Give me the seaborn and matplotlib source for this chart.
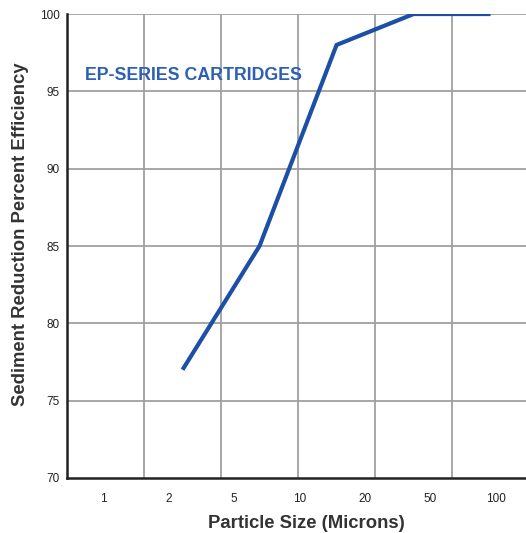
import numpy as np
import pandas as pd
import seaborn as sns
import matplotlib
matplotlib.use("Agg")
import matplotlib.pyplot as plt

sns.set_style("white")
plt.rcParams['font.family'] = ['Liberation Sans', 'DejaVu Sans']

# data
grid_column = [1, 2, 3, 4, 5]          # grid column holding each point
efficiency = [77, 85, 98, 100, 100]    # sediment reduction, percent
size_labels = ['1', '2', '5', '10', '20', '50', '100']
y_ticks = [70, 75, 80, 85, 90, 95, 100]

df = pd.DataFrame({'col': np.array(grid_column) + 0.5, 'eff': efficiency})

fig = plt.figure(figsize=(5.26, 5.33), dpi=100)
ax = fig.add_axes([0.1274, 0.1032, 0.8726, 0.8705])

sns.lineplot(x='col', y='eff', data=df, ax=ax, color='#1d4fa6',
             linewidth=3.0, solid_capstyle='butt', solid_joinstyle='miter')

ax.set_xlim(0, 5.96)
ax.set_ylim(70, 100)

# grid lines (columns do not line up with the size labels in the original)
for gx in range(1, 7):
    ax.axvline(gx, color='#a0a0a0', lw=1.3, zorder=0)
for gy in y_ticks[1:]:
    ax.axhline(gy, color='#a0a0a0', lw=1.3, zorder=0)

ax.set_yticks(y_ticks)
ax.set_yticklabels([str(v) for v in y_ticks], fontsize=8.5, color='#222222')
ax.set_xticks(np.linspace(0.47, 5.57, len(size_labels)))
ax.set_xticklabels(size_labels, fontsize=8.5, color='#222222')
ax.tick_params(axis='both', length=0)
ax.tick_params(axis='y', pad=5)
ax.tick_params(axis='x', pad=11)

for s in ['top', 'right']:
    ax.spines[s].set_visible(False)
for s in ['left', 'bottom']:
    ax.spines[s].set_color('#222222')
    ax.spines[s].set_linewidth(1.8)

ax.set_xlabel('Particle Size (Microns)', fontsize=13.3, fontweight='bold',
              color='#333333', va='center')
ax.xaxis.set_label_coords(0.521, -0.099)
ax.set_ylabel('Sediment Reduction Percent Efficiency', fontsize=13.3,
              fontweight='bold', color='#333333', va='center')
ax.yaxis.set_label_coords(-0.1005, 0.526)

ax.text(0.234, 96.05, 'EP-SERIES CARTRIDGES', fontsize=12.8, fontweight='bold',
        color='#2d5fb4', va='center', ha='left')

fig.savefig('out.png', dpi=100)
